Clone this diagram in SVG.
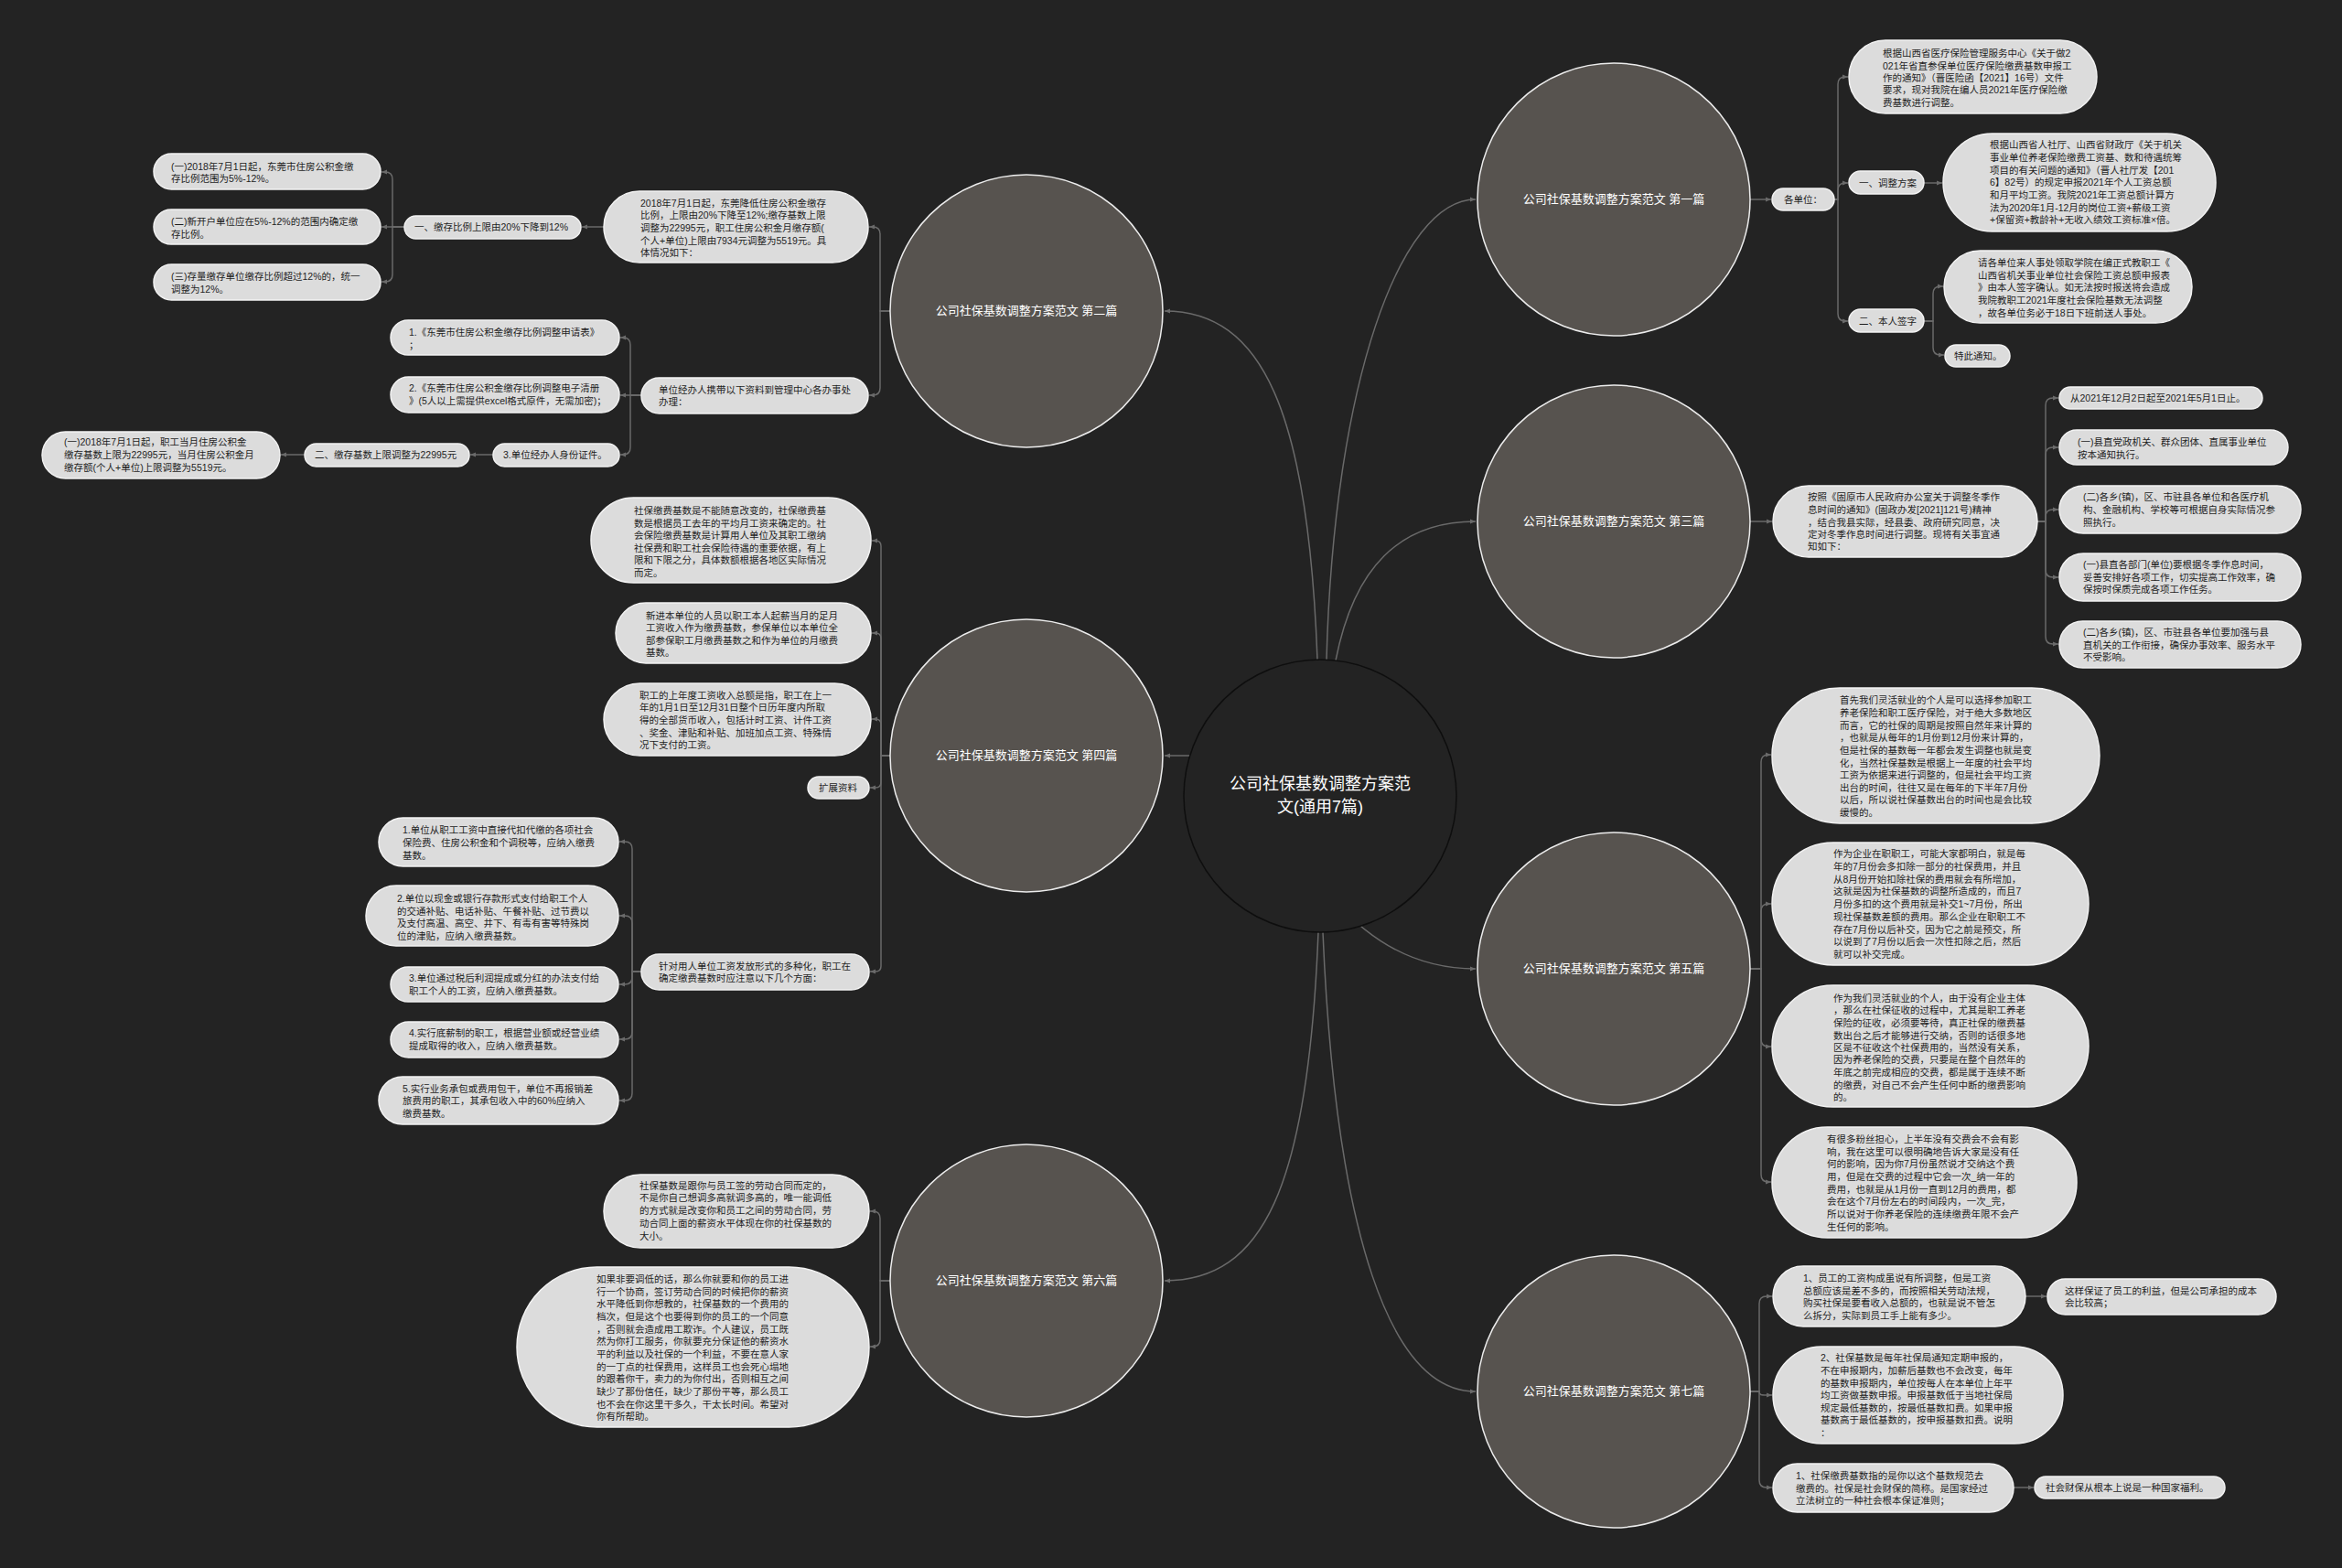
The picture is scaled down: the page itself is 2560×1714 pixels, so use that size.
<svg xmlns="http://www.w3.org/2000/svg" width="2560" height="1714" viewBox="0 0 2560 1714">
<defs>
<style>
.t{font-family:"Liberation Sans","Noto Sans CJK SC",sans-serif;font-size:10.5px;fill:#1e1e1e}
.n{fill:#dcdcdc;stroke:#f2f2f2;stroke-width:1.5}
.c{fill:#57534f;stroke:#ececec;stroke-width:1.5}
.ct{font-family:"Liberation Sans","Noto Sans CJK SC",sans-serif;font-size:13px;fill:#ffffff;text-anchor:middle}
.e{fill:none;stroke:#6a6a6a;stroke-width:1.5;marker-end:url(#a)}
</style>
<marker id="a" markerWidth="6" markerHeight="6" refX="6" refY="3" orient="auto" markerUnits="userSpaceOnUse"><path d="M0,0.5 L6,3 L0,5.5 z" fill="#6a6a6a"/></marker>
</defs>
<rect width="2560" height="1714" fill="#232323"/>

<g id="connectors">
<path class="e" d="M1450 721 C1458 420 1530 218 1613 218"/>
<path class="e" d="M1440 721 C1430 450 1380 340 1273 340"/>
<path class="e" d="M1460 722 C1480 620 1530 570 1613 570"/>
<path class="e" d="M1301 826 H1273"/>
<path class="e" d="M1487 1012 C1520 1040 1560 1059 1613 1059"/>
<path class="e" d="M1441 1019 C1430 1300 1380 1400 1273 1400"/>
<path class="e" d="M1446 1019 C1460 1350 1520 1521 1613 1521"/>

<path class="e" d="M1913 218 H1936"/>
<path class="e" d="M2005 218 H2009 V92 Q2009 84 2017 84 H2020"/>
<path class="e" d="M2005 218 H2009 V208 Q2009 200 2017 200 H2020"/>
<path class="e" d="M2005 218 H2009 V343 Q2009 351 2017 351 H2020"/>
<path class="e" d="M2103 200 H2123"/>
<path class="e" d="M2103 351 H2113 V321 Q2113 313 2121 313 H2124"/>
<path class="e" d="M2103 351 H2113 V380 Q2113 388 2121 388 H2125"/>

<path class="e" d="M1913 570 H1937"/>
<path class="e" d="M2227 570 H2236 V443 Q2236 435 2244 435 H2250"/>
<path class="e" d="M2227 570 H2236 V497 Q2236 489 2244 489 H2250"/>
<path class="e" d="M2227 570 H2236 V565 Q2236 557 2244 557 H2250"/>
<path class="e" d="M2227 570 H2236 V623 Q2236 631 2244 631 H2250"/>
<path class="e" d="M2227 570 H2236 V696 Q2236 704 2244 704 H2250"/>

<path class="e" d="M1913 1059 H1925 V833 Q1925 825 1933 825 H1936"/>
<path class="e" d="M1913 1059 H1925 V996 Q1925 988 1933 988 H1936"/>
<path class="e" d="M1913 1059 H1925 V1136 Q1925 1144 1933 1144 H1936"/>
<path class="e" d="M1913 1059 H1925 V1284 Q1925 1292 1933 1292 H1936"/>

<path class="e" d="M1913 1521 H1923 V1425 Q1923 1417 1931 1417 H1937"/>
<path class="e" d="M1913 1521 H1923 C1923 1525 1925 1525 1931 1525 H1937"/>
<path class="e" d="M1913 1521 H1923 V1618 Q1923 1626 1931 1626 H1937"/>
<path class="e" d="M2214 1417 H2237"/>
<path class="e" d="M2201 1626 H2223"/>

<path class="e" d="M973 340 H962 V256 Q962 248 954 248 H950"/>
<path class="e" d="M973 340 H962 V424 Q962 432 954 432 H950"/>
<path class="e" d="M660 248 H636"/>
<path class="e" d="M442 248 H429 V196 Q429 188 421 188 H417"/>
<path class="e" d="M442 248 H417"/>
<path class="e" d="M442 248 H429 V300 Q429 308 421 308 H417"/>
<path class="e" d="M701 432 H689 V377 Q689 369 681 369 H678"/>
<path class="e" d="M701 432 H678"/>
<path class="e" d="M701 432 H689 V489 Q689 497 681 497 H678"/>
<path class="e" d="M539 497 H514"/>
<path class="e" d="M333 497 H307"/>

<path class="e" d="M973 826 H963 V597 Q963 591 957 591 H953"/>
<path class="e" d="M973 826 H963 V698 Q963 692 957 692 H953"/>
<path class="e" d="M973 826 H963 V792 Q963 786 957 786 H953"/>
<path class="e" d="M973 826 H963 V855 Q963 861 957 861 H951"/>
<path class="e" d="M973 826 H963 V1056 Q963 1062 957 1062 H951"/>
<path class="e" d="M701 1062 H691 V928 Q691 920 683 920 H677"/>
<path class="e" d="M701 1062 H691 V1009 Q691 1001 683 1001 H677"/>
<path class="e" d="M701 1062 H691 V1068 Q691 1076 683 1076 H677"/>
<path class="e" d="M701 1062 H691 V1128 Q691 1136 683 1136 H677"/>
<path class="e" d="M701 1062 H691 V1195 Q691 1203 683 1203 H677"/>

<path class="e" d="M973 1400 H962 V1332 Q962 1324 954 1324 H951"/>
<path class="e" d="M973 1400 H962 V1464 Q962 1472 954 1472 H951"/>
</g>

<g id="root">
<circle cx="1443" cy="870" r="149" fill="#232323" stroke="#0e0e0e" stroke-width="1.5"/>
<text class="ct" style="font-size:18px"><tspan x="1443" y="863">公司社保基数调整方案范</tspan><tspan x="1443" y="888">文(通用7篇)</tspan></text>
</g>

<g id="p1"><circle class="c" cx="1764" cy="218" r="149"/><text class="ct" x="1764" y="222">公司社保基数调整方案范文 第一篇</text></g>
<g id="p2"><circle class="c" cx="1122" cy="340" r="149"/><text class="ct" x="1122" y="344">公司社保基数调整方案范文 第二篇</text></g>
<g id="p3"><circle class="c" cx="1764" cy="570" r="149"/><text class="ct" x="1764" y="574">公司社保基数调整方案范文 第三篇</text></g>
<g id="p4"><circle class="c" cx="1122" cy="826" r="149"/><text class="ct" x="1122" y="830">公司社保基数调整方案范文 第四篇</text></g>
<g id="p5"><circle class="c" cx="1764" cy="1059" r="149"/><text class="ct" x="1764" y="1063">公司社保基数调整方案范文 第五篇</text></g>
<g id="p6"><circle class="c" cx="1122" cy="1400" r="149"/><text class="ct" x="1122" y="1404">公司社保基数调整方案范文 第六篇</text></g>
<g id="p7"><circle class="c" cx="1764" cy="1521" r="149"/><text class="ct" x="1764" y="1525">公司社保基数调整方案范文 第七篇</text></g>

<g id="n1a"><rect class="n" x="1937" y="206" width="68" height="24" rx="12"/><text class="t" x="1950" y="222">各单位：</text></g>
<g id="n1b"><rect class="n" x="2021" y="44" width="271" height="80" rx="40"/><text class="t"><tspan x="2058" y="62">根据山西省医疗保险管理服务中心《关于做2</tspan><tspan x="2058" y="76">021年省直参保单位医疗保险缴费基数申报工</tspan><tspan x="2058" y="89">作的通知》（晋医险函【2021】16号）文件</tspan><tspan x="2058" y="102">要求，现对我院在编人员2021年医疗保险缴</tspan><tspan x="2058" y="116">费基数进行调整。</tspan></text></g>
<g id="n1c"><rect class="n" x="2021" y="187" width="82" height="25" rx="12.5"/><text class="t" x="2032" y="203.5">一、调整方案</text></g>
<g id="n1d"><rect class="n" x="2124" y="146" width="298" height="107" rx="53.5"/><text class="t"><tspan x="2175" y="162">根据山西省人社厅、山西省财政厅《关于机关</tspan><tspan x="2175" y="176">事业单位养老保险缴费工资基、数和待遇统筹</tspan><tspan x="2175" y="190">项目的有关问题的通知》（晋人社厅发【201</tspan><tspan x="2175" y="203">6】82号）的规定申报2021年个人工资总额</tspan><tspan x="2175" y="217">和月平均工资。我院2021年工资总额计算方</tspan><tspan x="2175" y="231">法为2020年1月-12月的岗位工资+薪级工资</tspan><tspan x="2175" y="244">+保留资+教龄补+无收入绩效工资标准×倍。</tspan></text></g>
<g id="n1e"><rect class="n" x="2021" y="338" width="82" height="25" rx="12.5"/><text class="t" x="2032" y="354.5">二、本人签字</text></g>
<g id="n1f"><rect class="n" x="2125" y="274" width="271" height="79" rx="39.5"/><text class="t"><tspan x="2162" y="291">请各单位来人事处领取学院在编正式教职工《</tspan><tspan x="2162" y="305">山西省机关事业单位社会保险工资总额申报表</tspan><tspan x="2162" y="318">》由本人签字确认。如无法按时报送将会造成</tspan><tspan x="2162" y="332">我院教职工2021年度社会保险基数无法调整</tspan><tspan x="2162" y="346">，故各单位务必于18日下班前送人事处。</tspan></text></g>
<g id="n1g"><rect class="n" x="2126" y="377" width="71" height="24" rx="12"/><text class="t" x="2136" y="393">特此通知。</text></g>

<g id="n3a"><rect class="n" x="1938" y="531" width="289" height="78" rx="39"/><text class="t"><tspan x="1976" y="547">按照《固原市人民政府办公室关于调整冬季作</tspan><tspan x="1976" y="561">息时间的通知》(固政办发[2021]121号)精神</tspan><tspan x="1976" y="575">，结合我县实际，经县委、政府研究同意，决</tspan><tspan x="1976" y="588">定对冬季作息时间进行调整。现将有关事宜通</tspan><tspan x="1976" y="601">知如下：</tspan></text></g>
<g id="n3b"><rect class="n" x="2251" y="423" width="222" height="24" rx="12"/><text class="t" x="2263" y="439">从2021年12月2日起至2021年5月1日止。</text></g>
<g id="n3c"><rect class="n" x="2251" y="470" width="250" height="38" rx="19"/><text class="t"><tspan x="2271" y="487">(一)县直党政机关、群众团体、直属事业单位</tspan><tspan x="2271" y="501">按本通知执行。</tspan></text></g>
<g id="n3d"><rect class="n" x="2251" y="531" width="264" height="52" rx="26"/><text class="t"><tspan x="2277" y="547">(二)各乡(镇)，区、市驻县各单位和各医疗机</tspan><tspan x="2277" y="561">构、金融机构、学校等可根据自身实际情况参</tspan><tspan x="2277" y="575">照执行。</tspan></text></g>
<g id="n3e"><rect class="n" x="2251" y="605" width="264" height="52" rx="26"/><text class="t"><tspan x="2277" y="621">(一)县直各部门(单位)要根据冬季作息时间，</tspan><tspan x="2277" y="635">妥善安排好各项工作，切实提高工作效率，确</tspan><tspan x="2277" y="648">保按时保质完成各项工作任务。</tspan></text></g>
<g id="n3f"><rect class="n" x="2251" y="679" width="264" height="51" rx="25.5"/><text class="t"><tspan x="2277" y="695">(二)各乡(镇)，区、市驻县各单位要加强与县</tspan><tspan x="2277" y="709">直机关的工作衔接，确保办事效率、服务水平</tspan><tspan x="2277" y="722">不受影响。</tspan></text></g>

<g id="n5a"><rect class="n" x="1937" y="752" width="358" height="148" rx="74"/><text class="t"><tspan x="2011" y="769">首先我们灵活就业的个人是可以选择参加职工</tspan><tspan x="2011" y="783">养老保险和职工医疗保险，对于绝大多数地区</tspan><tspan x="2011" y="797">而言，它的社保的周期是按照自然年来计算的</tspan><tspan x="2011" y="810">，也就是从每年的1月份到12月份来计算的，</tspan><tspan x="2011" y="824">但是社保的基数每一年都会发生调整也就是变</tspan><tspan x="2011" y="838">化，当然社保基数是根据上一年度的社会平均</tspan><tspan x="2011" y="851">工资为依据来进行调整的，但是社会平均工资</tspan><tspan x="2011" y="865">出台的时间，往往又是在每年的下半年7月份</tspan><tspan x="2011" y="878">以后，所以说社保基数出台的时间也是会比较</tspan><tspan x="2011" y="892">缓慢的。</tspan></text></g>
<g id="n5b"><rect class="n" x="1937" y="921" width="346" height="134" rx="67"/><text class="t"><tspan x="2004" y="937">作为企业在职职工，可能大家都明白，就是每</tspan><tspan x="2004" y="951">年的7月份会多扣除一部分的社保费用，并且</tspan><tspan x="2004" y="965">从8月份开始扣除社保的费用就会有所增加，</tspan><tspan x="2004" y="978">这就是因为社保基数的调整所造成的，而且7</tspan><tspan x="2004" y="992">月份多扣的这个费用就是补交1~7月份，所出</tspan><tspan x="2004" y="1006">现社保基数差额的费用。那么企业在职职工不</tspan><tspan x="2004" y="1020">存在7月份以后补交，因为它之前是预交，所</tspan><tspan x="2004" y="1033">以说到了7月份以后会一次性扣除之后，然后</tspan><tspan x="2004" y="1047">就可以补交完成。</tspan></text></g>
<g id="n5c"><rect class="n" x="1937" y="1077" width="346" height="133" rx="66.5"/><text class="t"><tspan x="2004" y="1095">作为我们灵活就业的个人，由于没有企业主体</tspan><tspan x="2004" y="1108">，那么在社保征收的过程中，尤其是职工养老</tspan><tspan x="2004" y="1122">保险的征收，必须要等待，真正社保的缴费基</tspan><tspan x="2004" y="1136">数出台之后才能够进行交纳，否则的话很多地</tspan><tspan x="2004" y="1149">区是不征收这个社保费用的，当然没有关系，</tspan><tspan x="2004" y="1162">因为养老保险的交费，只要是在整个自然年的</tspan><tspan x="2004" y="1176">年底之前完成相应的交费，都是属于连续不断</tspan><tspan x="2004" y="1190">的缴费，对自己不会产生任何中断的缴费影响</tspan><tspan x="2004" y="1203">的。</tspan></text></g>
<g id="n5d"><rect class="n" x="1937" y="1232" width="333" height="121" rx="60.5"/><text class="t"><tspan x="1997" y="1249">有很多粉丝担心，上半年没有交费会不会有影</tspan><tspan x="1997" y="1263">响，我在这里可以很明确地告诉大家是没有任</tspan><tspan x="1997" y="1276">何的影响，因为你7月份虽然说才交纳这个费</tspan><tspan x="1997" y="1290">用，但是在交费的过程中它会一次_纳一年的</tspan><tspan x="1997" y="1304">费用，也就是从1月份一直到12月的费用，都</tspan><tspan x="1997" y="1317">会在这个7月份左右的时间段内，一次_完，</tspan><tspan x="1997" y="1331">所以说对于你养老保险的连续缴费年限不会产</tspan><tspan x="1997" y="1345">生任何的影响。</tspan></text></g>

<g id="n7a"><rect class="n" x="1938" y="1384" width="276" height="66" rx="33"/><text class="t"><tspan x="1971" y="1401">1、员工的工资构成虽说有所调整，但是工资</tspan><tspan x="1971" y="1415">总额应该是差不多的，而按照相关劳动法规，</tspan><tspan x="1971" y="1428">购买社保是要看收入总额的，也就是说不管怎</tspan><tspan x="1971" y="1442">么拆分，实际到员工手上能有多少。</tspan></text></g>
<g id="n7b"><rect class="n" x="2238" y="1398" width="250" height="39" rx="19.5"/><text class="t"><tspan x="2257" y="1415">这样保证了员工的利益，但是公司承担的成本</tspan><tspan x="2257" y="1428">会比较高；</tspan></text></g>
<g id="n7c"><rect class="n" x="1938" y="1472" width="317" height="106" rx="53"/><text class="t"><tspan x="1990" y="1488">2、社保基数是每年社保局通知定期申报的，</tspan><tspan x="1990" y="1502">不在申报期内，加薪后基数也不会改变，每年</tspan><tspan x="1990" y="1516">的基数申报期内，单位按每人在本单位上年平</tspan><tspan x="1990" y="1529">均工资做基数申报。申报基数低于当地社保局</tspan><tspan x="1990" y="1543">规定最低基数的，按最低基数扣费。如果申报</tspan><tspan x="1990" y="1556">基数高于最低基数的，按申报基数扣费。说明</tspan><tspan x="1990" y="1570">：</tspan></text></g>
<g id="n7d"><rect class="n" x="1938" y="1600" width="263" height="53" rx="26.5"/><text class="t"><tspan x="1963" y="1617">1、社保缴费基数指的是你以这个基数规范去</tspan><tspan x="1963" y="1631">缴费的。社保是社会财保的简称。是国家经过</tspan><tspan x="1963" y="1644">立法树立的一种社会根本保证准则；</tspan></text></g>
<g id="n7e"><rect class="n" x="2224" y="1614" width="208" height="24" rx="12"/><text class="t" x="2236" y="1630">社会财保从根本上说是一种国家福利。</text></g>

<g id="n2a"><rect class="n" x="660" y="209" width="289" height="78" rx="39"/><text class="t"><tspan x="700" y="226">2018年7月1日起，东莞降低住房公积金缴存</tspan><tspan x="700" y="239">比例，上限由20%下降至12%;缴存基数上限</tspan><tspan x="700" y="253">调整为22995元，职工住房公积金月缴存额(</tspan><tspan x="700" y="267">个人+单位)上限由7934元调整为5519元。具</tspan><tspan x="700" y="280">体情况如下：</tspan></text></g>
<g id="n2b"><rect class="n" x="442" y="236" width="193" height="25" rx="12.5"/><text class="t" x="453" y="252">一、缴存比例上限由20%下降到12%</text></g>
<g id="n2c"><rect class="n" x="168" y="168" width="248" height="39" rx="19.5"/><text class="t"><tspan x="187" y="186">(一)2018年7月1日起，东莞市住房公积金缴</tspan><tspan x="187" y="199">存比例范围为5%-12%。</tspan></text></g>
<g id="n2d"><rect class="n" x="168" y="229" width="248" height="38" rx="19"/><text class="t"><tspan x="187" y="246">(二)新开户单位应在5%-12%的范围内确定缴</tspan><tspan x="187" y="260">存比例。</tspan></text></g>
<g id="n2e"><rect class="n" x="168" y="289" width="248" height="39" rx="19.5"/><text class="t"><tspan x="187" y="306">(三)存量缴存单位缴存比例超过12%的，统一</tspan><tspan x="187" y="320">调整为12%。</tspan></text></g>
<g id="n2f"><rect class="n" x="701" y="413" width="248" height="39" rx="19.5"/><text class="t"><tspan x="720" y="430">单位经办人携带以下资料到管理中心各办事处</tspan><tspan x="720" y="443">办理：</tspan></text></g>
<g id="n2g"><rect class="n" x="427" y="350" width="250" height="38" rx="19"/><text class="t"><tspan x="447" y="367">1.《东莞市住房公积金缴存比例调整申请表》</tspan><tspan x="447" y="381">；</tspan></text></g>
<g id="n2h"><rect class="n" x="427" y="412" width="250" height="39" rx="19.5"/><text class="t"><tspan x="447" y="428">2.《东莞市住房公积金缴存比例调整电子清册</tspan><tspan x="447" y="442">》(5人以上需提供excel格式原件，无需加密)；</tspan></text></g>
<g id="n2i"><rect class="n" x="539" y="485" width="138" height="25" rx="12.5"/><text class="t" x="550" y="501">3.单位经办人身份证件。</text></g>
<g id="n2j"><rect class="n" x="333" y="485" width="180" height="25" rx="12.5"/><text class="t" x="344" y="501">二、缴存基数上限调整为22995元</text></g>
<g id="n2k"><rect class="n" x="46" y="472" width="260" height="51" rx="25.5"/><text class="t"><tspan x="70" y="487">(一)2018年7月1日起，职工当月住房公积金</tspan><tspan x="70" y="501">缴存基数上限为22995元，当月住房公积金月</tspan><tspan x="70" y="515">缴存额(个人+单位)上限调整为5519元。</tspan></text></g>

<g id="n4a"><rect class="n" x="646" y="544" width="306" height="93" rx="46.5"/><text class="t"><tspan x="693" y="562">社保缴费基数是不能随意改变的，社保缴费基</tspan><tspan x="693" y="576">数是根据员工去年的平均月工资来确定的。社</tspan><tspan x="693" y="589">会保险缴费基数是计算用人单位及其职工缴纳</tspan><tspan x="693" y="603">社保费和职工社会保险待遇的重要依据，有上</tspan><tspan x="693" y="616">限和下限之分，具体数额根据各地区实际情况</tspan><tspan x="693" y="630">而定。</tspan></text></g>
<g id="n4b"><rect class="n" x="673" y="659" width="279" height="66" rx="33"/><text class="t"><tspan x="706" y="677">新进本单位的人员以职工本人起薪当月的足月</tspan><tspan x="706" y="690">工资收入作为缴费基数，参保单位以本单位全</tspan><tspan x="706" y="704">部参保职工月缴费基数之和作为单位的月缴费</tspan><tspan x="706" y="717">基数。</tspan></text></g>
<g id="n4c"><rect class="n" x="660" y="747" width="292" height="79" rx="39.5"/><text class="t"><tspan x="699" y="764">职工的上年度工资收入总额是指，职工在上一</tspan><tspan x="699" y="777">年的1月1日至12月31日整个日历年度内所取</tspan><tspan x="699" y="791">得的全部货币收入，包括计时工资、计件工资</tspan><tspan x="699" y="805">、奖金、津贴和补贴、加班加点工资、特殊情</tspan><tspan x="699" y="818">况下支付的工资。</tspan></text></g>
<g id="n4d"><rect class="n" x="883" y="849" width="67" height="24" rx="12"/><text class="t" x="895" y="865">扩展资料</text></g>
<g id="n4e"><rect class="n" x="701" y="1043" width="249" height="39" rx="19.5"/><text class="t"><tspan x="720" y="1060">针对用人单位工资发放形式的多种化，职工在</tspan><tspan x="720" y="1073">确定缴费基数时应注意以下几个方面：</tspan></text></g>
<g id="n4f"><rect class="n" x="414" y="894" width="262" height="53" rx="26.5"/><text class="t"><tspan x="440" y="911">1.单位从职工工资中直接代扣代缴的各项社会</tspan><tspan x="440" y="925">保险费、住房公积金和个调税等，应纳入缴费</tspan><tspan x="440" y="939">基数。</tspan></text></g>
<g id="n4g"><rect class="n" x="400" y="968" width="276" height="66" rx="33"/><text class="t"><tspan x="434" y="986">2.单位以现金或银行存款形式支付给职工个人</tspan><tspan x="434" y="999.5">的交通补贴、电话补贴、午餐补贴、过节费以</tspan><tspan x="434" y="1013">及支付高温、高空、井下、有毒有害等特殊岗</tspan><tspan x="434" y="1026.5">位的津贴，应纳入缴费基数。</tspan></text></g>
<g id="n4h"><rect class="n" x="427" y="1057" width="249" height="38" rx="19"/><text class="t"><tspan x="447" y="1073">3.单位通过税后利润提成或分红的办法支付给</tspan><tspan x="447" y="1087">职工个人的工资，应纳入缴费基数。</tspan></text></g>
<g id="n4i"><rect class="n" x="427" y="1117" width="249" height="39" rx="19.5"/><text class="t"><tspan x="447" y="1133">4.实行底薪制的职工，根据营业额或经营业绩</tspan><tspan x="447" y="1147">提成取得的收入，应纳入缴费基数。</tspan></text></g>
<g id="n4j"><rect class="n" x="414" y="1177" width="262" height="52" rx="26"/><text class="t"><tspan x="440" y="1194">5.实行业务承包或费用包干，单位不再报销差</tspan><tspan x="440" y="1207">旅费用的职工，其承包收入中的60%应纳入</tspan><tspan x="440" y="1221">缴费基数。</tspan></text></g>

<g id="n6a"><rect class="n" x="660" y="1284" width="290" height="80" rx="40"/><text class="t"><tspan x="699" y="1300">社保基数是跟你与员工签的劳动合同而定的，</tspan><tspan x="699" y="1313">不是你自己想调多高就调多高的，唯一能调低</tspan><tspan x="699" y="1327">的方式就是改变你和员工之间的劳动合同，劳</tspan><tspan x="699" y="1341">动合同上面的薪资水平体现在你的社保基数的</tspan><tspan x="699" y="1355">大小。</tspan></text></g>
<g id="n6b"><rect class="n" x="565" y="1385" width="385" height="175" rx="87.5"/><text class="t"><tspan x="652" y="1402">如果非要调低的话，那么你就要和你的员工进</tspan><tspan x="652" y="1416">行一个协商，签订劳动合同的时候把你的薪资</tspan><tspan x="652" y="1429">水平降低到你想教的，社保基数的一个费用的</tspan><tspan x="652" y="1443">档次，但是这个也要得到你的员工的一个同意</tspan><tspan x="652" y="1457">，否则就会造成用工欺诈。个人建议，员工既</tspan><tspan x="652" y="1470">然为你打工服务，你就要充分保证他的薪资水</tspan><tspan x="652" y="1484">平的利益以及社保的一个利益，不要在意人家</tspan><tspan x="652" y="1498">的一丁点的社保费用，这样员工也会死心塌地</tspan><tspan x="652" y="1511">的跟着你干，卖力的为你付出，否则相互之间</tspan><tspan x="652" y="1525">缺少了那份信任，缺少了那份平等，那么员工</tspan><tspan x="652" y="1539">也不会在你这里干多久，干太长时间。希望对</tspan><tspan x="652" y="1552">你有所帮助。</tspan></text></g>
</svg>
